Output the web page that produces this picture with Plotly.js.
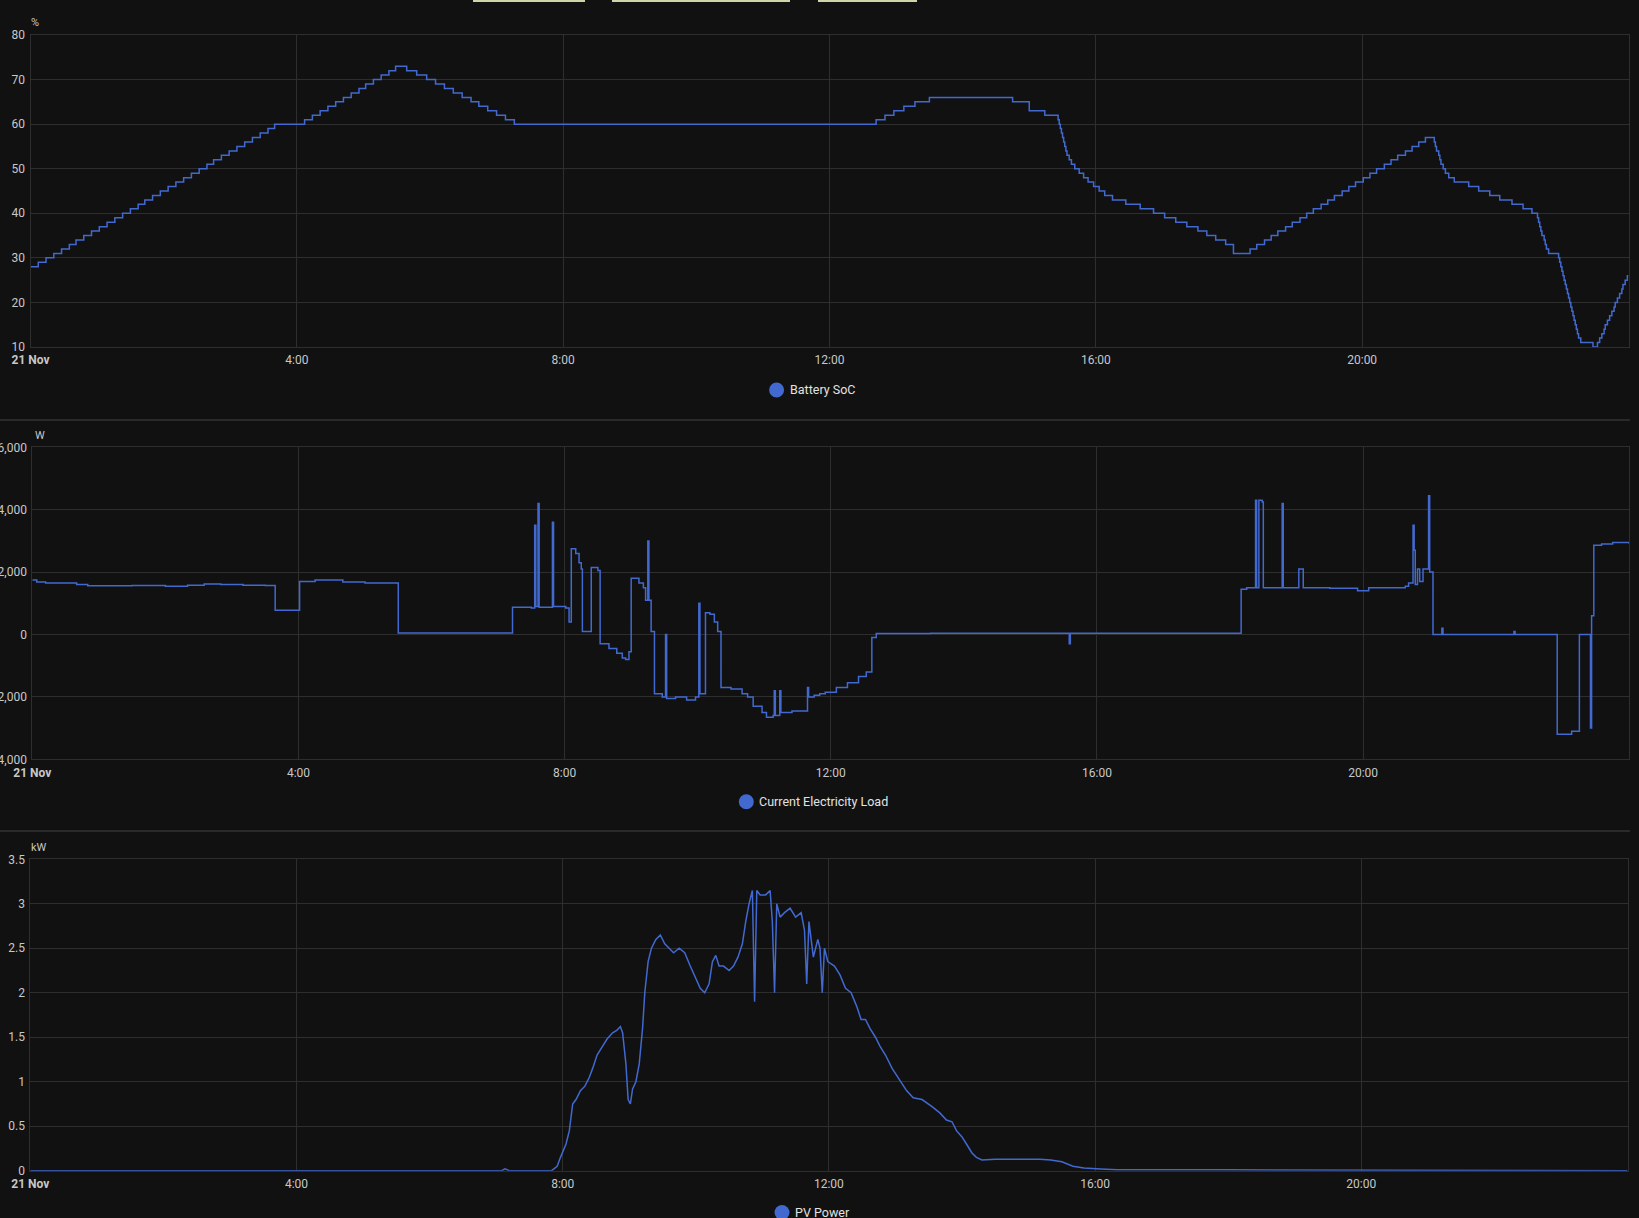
<!DOCTYPE html>
<html>
<head>
<meta charset="utf-8">
<script src="https://cdn.plot.ly/plotly-3.0.1.min.js"></script>
<style>
html,body{margin:0;padding:0;background:#111111;overflow:hidden;}
#chart{width:1639px;height:1218px;}
</style>
</head>
<body>
<div id="chart"></div>
<script>
// ---------- DATA ----------
const day = "2023-11-21";
const tickHours = ["00:00","04:00","08:00","12:00","16:00","20:00"];
const tickLabels = ["<b>21 Nov</b>","4:00","8:00","12:00","16:00","20:00"];
const seriesNames = ["Battery SoC", "Current Electricity Load", "PV Power"];
const unitLabels = ["%", "W", "kW"];

// Battery SoC (%), step changes
const socTimes = [
"00:00","00:07","00:14","00:21","00:28","00:35","00:41","00:48","00:55","01:02",
"01:09","01:16","01:23","01:30","01:37","01:43","01:50","01:57","02:04","02:11",
"02:18","02:25","02:32","02:39","02:45","02:52","02:59","03:06","03:13","03:20",
"03:27","03:34","03:40",
"04:07","04:14","04:21","04:28","04:35","04:42","04:49","04:56","05:02","05:09","05:16","05:23","05:29",
"05:39","05:48","05:57","06:05","06:13","06:21","06:29","06:37","06:44","06:52","07:00","07:08","07:16",
"12:42","12:50","12:58","13:07","13:17","13:30",
"14:45","15:00","15:14",
"15:26","15:27","15:28","15:29","15:30","15:31","15:32","15:33","15:34","15:36",
"15:38","15:41","15:45","15:49","15:53","15:58","16:03","16:08","16:15","16:27",
"16:40","16:52","17:02","17:12","17:22","17:32","17:40","17:48","17:57","18:04",
"18:19","18:25","18:32","18:38","18:44","18:51","18:57","19:04","19:10","19:16",
"19:23","19:29","19:35","19:42","19:48","19:54","20:01","20:07","20:13","20:20",
"20:26","20:32","20:39","20:45","20:51","20:57",
"21:05","21:06","21:07","21:09","21:10","21:11","21:13","21:15","21:18","21:23",
"21:36","21:45","21:55","22:04","22:15","22:25","22:33",
"22:38","22:39","22:40","22:41","22:42","22:44","22:45","22:46","22:48",
"22:57","22:58","22:59","23:00","23:01","23:02","23:03","23:04","23:05","23:06",
"23:07","23:08","23:09","23:10","23:11","23:12","23:13","23:14","23:15","23:17",
"23:28","23:32","23:34","23:36","23:38","23:39","23:41","23:43","23:45","23:47",
"23:48","23:50","23:52","23:54","23:55","23:57","23:59","24:00"];
const socValues = [
28,29,30,31,32,33,34,35,36,37,
38,39,40,41,42,43,44,45,46,47,
48,49,50,51,52,53,54,55,56,57,
58,59,60,
61,62,63,64,65,66,67,68,69,70,71,72,73,
72,71,70,69,68,67,66,65,64,63,62,61,60,
61,62,63,64,65,66,
65,63,62,
61,60,59,58,57,56,55,54,53,52,
51,50,49,48,47,46,45,44,43,42,
41,40,39,38,37,36,35,34,33,31,
32,33,34,35,36,37,38,39,40,41,
42,43,44,45,46,47,48,49,50,51,
52,53,54,55,56,57,
56,55,54,53,52,51,50,49,48,47,
46,45,44,43,42,41,40,
39,38,37,36,35,34,33,32,31,
30,29,28,27,26,25,24,23,22,21,
20,19,18,17,16,15,14,13,12,11,
10,11,12,13,14,15,16,17,18,19,
20,21,22,23,24,25,26,26];

// Current Electricity Load (W), step changes
const loadTimes = [
"00:00","00:04","00:12","00:40","00:50","01:30","02:00","02:20","02:35","02:50",
"03:10","03:30","03:39","04:01","04:15","04:40","05:00","05:30",
"07:13","07:30","07:33","07:34","07:36","07:37","07:49","07:50","08:01","08:04",
"08:06","08:10","08:13","08:15","08:16","08:24","08:30","08:32","08:40","08:47",
"08:52","08:55","08:58","09:00","09:07","09:11","09:13","09:15","09:16","09:18",
"09:21","09:28","09:31","09:32","09:40","09:50","09:58","10:01","10:02","10:07",
"10:11","10:15","10:18","10:21","10:30","10:40","10:45","10:50","10:58","11:02",
"11:08","11:09","11:10","11:14","11:15","11:25","11:39","11:40","11:45","11:50",
"11:55","12:05","12:15","12:25","12:32","12:37","12:41","13:30","15:35","15:36",
"16:30","18:09",
"18:10","18:15","18:23","18:24","18:26","18:29","18:30","18:47","18:48","19:02",
"19:06","19:30","19:55","20:05","20:38","20:41","20:45","20:46","20:47","20:49",
"20:51","20:54","20:59","21:00","21:03",
"21:11","21:12","22:16","22:17","22:55","23:08","23:15","23:25","23:26","23:28",
"23:35","23:45","24:00"];
const loadValues = [
1750,1680,1650,1600,1560,1570,1550,1580,1620,1600,
1580,1570,780,1700,1750,1680,1650,50,
870,850,3500,900,4200,870,3600,900,850,400,
2750,2600,2300,2100,100,2150,2050,-300,-450,-600,
-750,-800,-550,1800,1650,1500,1100,3000,1100,100,
-1900,-2000,0,-2050,-2000,-2100,-2000,1000,-1900,700,
650,400,100,-1700,-1750,-1900,-2000,-2300,-2500,-2650,
-2600,-1800,-2600,-1800,-2500,-2450,-1700,-2000,-1950,-1900,
-1850,-1700,-1550,-1350,-1200,-100,30,40,-300,40,
40,40,
1450,1500,4300,1500,4300,4250,1500,4200,1500,2100,
1500,1480,1400,1500,1550,1650,3500,2700,1600,2100,
1700,2100,4450,2000,0,
200,0,100,0,-3200,-3100,0,-3000,600,2860,
2900,2950,2900];

// PV Power (kW)
const pvTimes = [
"00:00","07:05","07:08","07:12","07:50","07:55","07:58","08:03","08:06","08:09",
"08:12","08:16","08:20","08:24","08:27","08:31","08:36","08:40","08:45","08:49",
"08:52","08:54","08:57","08:59","09:01","09:03","09:06","09:09","09:12","09:14",
"09:17","09:20","09:24","09:28","09:32","09:36","09:40","09:45","09:50","09:55",
"10:00","10:04","10:08","10:12","10:15","10:18","10:21","10:25","10:30","10:34",
"10:38","10:42","10:45","10:48","10:51","10:53","10:55","10:58","11:03","11:07",
"11:09","11:11","11:13","11:16","11:20","11:25","11:30","11:35","11:38","11:40",
"11:42","11:46","11:50","11:52","11:54","11:56","11:59","12:05","12:10","12:15",
"12:20","12:25","12:29","12:33","12:37","12:42","12:46","12:51","12:57","13:05",
"13:10","13:16","13:24","13:33","13:40","13:46","13:51","13:55","14:00","14:04",
"14:09","14:13","14:18","14:30","14:50","15:10","15:20","15:30","15:40","15:50",
"16:05","16:20","18:00","20:00","24:00"];
const pvValues = [
0,0,0.02,0,0,0.05,0.15,0.3,0.45,0.75,
0.8,0.9,0.95,1.05,1.15,1.3,1.4,1.48,1.55,1.58,
1.62,1.55,1.2,0.8,0.75,0.92,1.0,1.2,1.6,2.0,
2.35,2.5,2.6,2.65,2.55,2.5,2.45,2.5,2.45,2.3,
2.15,2.05,2.0,2.1,2.35,2.42,2.3,2.3,2.25,2.3,
2.4,2.55,2.8,3.0,3.15,1.9,3.15,3.1,3.1,3.15,
2.8,2.0,3.0,2.85,2.9,2.95,2.85,2.9,2.7,2.1,
2.8,2.4,2.6,2.5,2.0,2.5,2.35,2.3,2.2,2.05,
2.0,1.85,1.7,1.7,1.6,1.5,1.4,1.3,1.15,1.0,
0.9,0.82,0.8,0.72,0.65,0.57,0.55,0.45,0.38,0.3,
0.2,0.15,0.12,0.13,0.13,0.13,0.12,0.1,0.05,0.03,
0.02,0.01,0.01,0.005,0];

// ---------- HELPERS ----------
function toDate(t){
  if (t === "24:00") return "2023-11-22 00:00:00";
  return day + " " + (t.length === 5 ? t + ":00" : t);
}
const W = 1639, H = 1218;
const px = v => v / W;
const py = v => 1 - v / H;

const blue = "#4269d0";
const gridC = "#2e2e2e";
const tickFont = {family: "Roboto, sans-serif", size: 12, color: "#c8c8c8"};

function xaxisCfg(x0, x1, anchor){
  return {
    type: "date",
    domain: [px(x0), px(x1)],
    range: [toDate("00:00"), toDate("24:00")],
    tickvals: tickHours.map(toDate),
    ticktext: tickLabels,
    showgrid: true, gridcolor: gridC, gridwidth: 1,
    showline: true, mirror: true, linecolor: gridC, linewidth: 1,
    zeroline: false, ticks: "", tickfont: tickFont, ticklabelstandoff: 2,
    anchor: anchor, fixedrange: true
  };
}
function yaxisCfg(y0, y1, range, dtick, anchor, fmt){
  return {
    domain: [py(y1), py(y0)],
    range: range, dtick: dtick, tick0: 0,
    showgrid: true, gridcolor: gridC, gridwidth: 1,
    showline: true, mirror: true, linecolor: gridC, linewidth: 1,
    zeroline: false, ticks: "", tickfont: tickFont, ticklabelstandoff: 2,
    tickformat: fmt,
    anchor: anchor, fixedrange: true
  };
}

const traces = [
  {x: socTimes.map(toDate), y: socValues, type: "scatter", mode: "lines", name: seriesNames[0],
   line: {color: blue, width: 1.5, shape: "hv"}, xaxis: "x", yaxis: "y", showlegend: false, hoverinfo: "skip"},
  {x: loadTimes.map(toDate), y: loadValues, type: "scatter", mode: "lines", name: seriesNames[1],
   line: {color: blue, width: 1.5, shape: "hv"}, xaxis: "x2", yaxis: "y2", showlegend: false, hoverinfo: "skip"},
  {x: pvTimes.map(toDate), y: pvValues, type: "scatter", mode: "lines", name: seriesNames[2],
   line: {color: blue, width: 1.5}, xaxis: "x3", yaxis: "y3", showlegend: false, hoverinfo: "skip"}
];

// legend entries (circle marker + label), per chart
const legendPos = [[776.6, 390], [746.3, 801.7], [782, 1212.5]];
const legFont = {family: "Roboto, sans-serif", size: 12.5, color: "#e2e2e2"};

const shapes = [
  {type: "line", xref: "paper", yref: "paper", x0: 0, x1: px(1630), y0: py(420), y1: py(420), line: {color: "#2a2a2a", width: 2}},
  {type: "line", xref: "paper", yref: "paper", x0: 0, x1: px(1630), y0: py(831), y1: py(831), line: {color: "#2a2a2a", width: 2}},
  {type: "rect", xref: "paper", yref: "paper", x0: px(473), x1: px(585), y0: py(2), y1: py(-20), fillcolor: "#cdd6a9", line: {width: 0}},
  {type: "rect", xref: "paper", yref: "paper", x0: px(612), x1: px(790), y0: py(2), y1: py(-20), fillcolor: "#cdd6a9", line: {width: 0}},
  {type: "rect", xref: "paper", yref: "paper", x0: px(818), x1: px(917), y0: py(2), y1: py(-20), fillcolor: "#cdd6a9", line: {width: 0}}
];
const annotations = [];
legendPos.forEach((p, i) => {
  shapes.push({type: "circle", xref: "paper", yref: "paper", xsizemode: "pixel", ysizemode: "pixel",
    xanchor: px(p[0]), yanchor: py(p[1]), x0: -7.5, x1: 7.5, y0: -7.5, y1: 7.5,
    fillcolor: blue, line: {width: 0}});
  annotations.push({text: seriesNames[i], xref: "paper", yref: "paper", x: px(p[0] + 11), y: py(p[1]),
    xanchor: "left", yanchor: "middle", showarrow: false, font: legFont});
});
const unitPos = [[29, 22.5], [33, 435], [29, 847]];
unitPos.forEach((p, i) => {
  annotations.push({text: unitLabels[i], xref: "paper", yref: "paper", x: px(p[0]), y: py(p[1]),
    xanchor: "left", yanchor: "middle", showarrow: false,
    font: {family: "Roboto, sans-serif", size: 11, color: "#c8c8c8"}});
});

const layout = {
  width: W, height: H,
  margin: {l: 0, r: 0, t: 0, b: 0, autoexpand: false},
  paper_bgcolor: "#111111", plot_bgcolor: "#111111",
  font: {family: "Roboto, sans-serif", color: "#c8c8c8"},
  separators: ".,",
  xaxis: xaxisCfg(30.5, 1628.5, "y"),
  yaxis: yaxisCfg(35, 347, [10, 80], 10, "x", ""),
  xaxis2: xaxisCfg(32.3, 1629.3, "y2"),
  yaxis2: yaxisCfg(447.3, 759.3, [-4000, 6000], 2000, "x2", ",d"),
  xaxis3: xaxisCfg(30.3, 1627.5, "y3"),
  yaxis3: yaxisCfg(859.3, 1170.7, [0, 3.5], 0.5, "x3", ""),
  annotations: annotations,
  shapes: shapes,
  showlegend: false
};

Plotly.newPlot("chart", traces, layout, {staticPlot: true, displayModeBar: false});
</script>
</body>
</html>
